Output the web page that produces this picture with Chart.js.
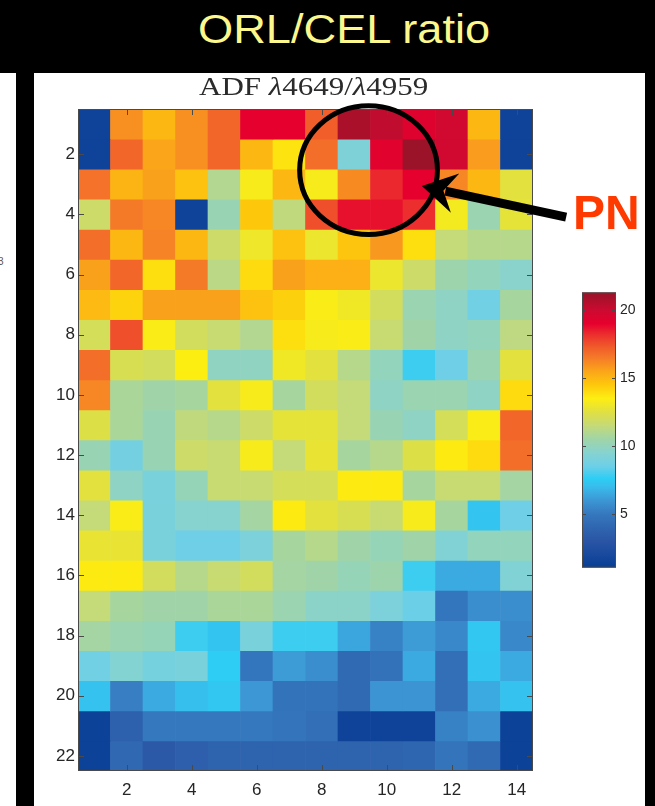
<!DOCTYPE html>
<html>
<head>
<meta charset="utf-8">
<script src="https://cdn.jsdelivr.net/npm/chart.js@4.4.1/dist/chart.umd.min.js"></script>
<style>
  body { margin: 0; background: #000; width: 655px; height: 806px; overflow: hidden; position: relative; font-family: "Liberation Sans", Arial, sans-serif; }
  #headline { position: absolute; left: 198px; top: 9px; font-size: 40px; line-height: 40px; color: #fcf88c; white-space: nowrap; transform: scaleX(1.13); transform-origin: 0 0; }
  #edge { position: absolute; left: 0; top: 73px; width: 16px; height: 733px; background: #fff; overflow: hidden; }
  #edge span { position: absolute; left: -2px; top: 183px; font-size: 10px; color: #555; }
  #panel { position: absolute; left: 34px; top: 73px; width: 611px; height: 733px; background: #fff; }
  #subtitle { position: absolute; left: 165px; top: 1px; font-family: "Liberation Serif", "Times New Roman", serif; font-size: 25px; line-height: 25px; color: #2b2b2b; white-space: nowrap; transform: scaleX(1.24); transform-origin: 0 0; }
  #subtitle i { font-style: italic; }
  #mapCanvas { position: absolute; left: 0; top: 0; }
  #barCanvas { position: absolute; left: 526px; top: 207px; }
</style>
</head>
<body>
<div id="headline">ORL/CEL ratio</div>
<div id="edge"><span>3</span></div>
<div id="panel">
  <canvas id="mapCanvas" width="611" height="733"></canvas>
  <canvas id="barCanvas" width="85" height="300"></canvas>
  <div id="subtitle">ADF <i>λ</i>4649/<i>λ</i>4959</div>
</div>
<script>
// 列（x）と行（y）
const cols = [1, 2, 3, 4, 5, 6, 7, 8, 9, 10, 11, 12, 13, 14];
const rows = [1, 2, 3, 4, 5, 6, 7, 8, 9, 10, 11, 12, 13, 14, 15, 16, 17, 18, 19, 20, 21, 22];

// 行ごとの比の値（1行 = 14列）
const ratioRows = [
  [1.5, 16, 15, 16, 17, 19, 19, 17.2, 20.8, 20.3, 19.3, 19.8, 15, 1.5],
  [1.5, 17, 15.5, 16, 17, 15, 13.8, 16.8, 9.2, 19.2, 21.2, 19.8, 15.7, 1.5],
  [16.7, 15.1, 15.6, 14.7, 11, 13.3, 15, 13.3, 16.1, 18.3, 19, 16.2, 15, 12.6],
  [11.8, 16.5, 16.2, 1.5, 10.2, 14.5, 11.4, 17.5, 18.7, 18.7, 18.2, 13.2, 10.3, 12.7],
  [16.8, 15, 16.3, 15, 11.8, 13, 14.7, 12.9, 14.6, 15.8, 13.9, 11.5, 11.1, 11.1],
  [15.6, 17, 13.9, 16.5, 11.2, 14, 15.6, 15.2, 15.2, 12.9, 11.8, 10.4, 10, 9.6],
  [14.9, 14.2, 15.6, 15.6, 15.6, 14.7, 14.3, 13.4, 13.1, 12, 10.3, 9.8, 8.7, 10.7],
  [12.1, 17.5, 13.4, 12, 11.6, 11, 13.9, 13.3, 13.4, 11.6, 10.5, 9.8, 10, 11.3],
  [16.8, 12.2, 12, 13.5, 9.9, 9.9, 13.1, 12.6, 11.1, 10, 7.8, 8.6, 10.3, 12.6],
  [16.2, 10.8, 10.5, 10.7, 12.6, 13.3, 10.7, 12, 11.5, 9.8, 10.3, 10.3, 9.8, 14],
  [12.4, 10.8, 10.2, 11.4, 11.1, 11.8, 12.7, 12.7, 11.5, 10.2, 9.8, 12.1, 13.4, 17],
  [10.2, 8.8, 10.2, 11.8, 11.6, 13.3, 11.5, 12.8, 10.7, 11.1, 12.4, 13.6, 14, 16.8],
  [12.6, 9.8, 9, 10.1, 11.6, 11.6, 12.1, 12.1, 13.6, 13.6, 10.7, 11.6, 11.6, 10.6],
  [11.5, 13.4, 9, 9.5, 9.5, 10.6, 13.6, 12.6, 12.2, 11.6, 13.3, 10.7, 7.3, 8.6],
  [12.8, 12.8, 9, 8.6, 8.6, 9.1, 10.7, 11.1, 10.5, 10.1, 10.5, 9.3, 10, 10],
  [13.6, 13.6, 12, 11.1, 11.6, 12, 10.6, 10.5, 10.1, 10.4, 7.8, 6.5, 6.5, 9.3],
  [11.5, 10.7, 10.5, 10.5, 10.8, 10.8, 10.3, 9.7, 9.7, 9.1, 8.5, 4.9, 5.7, 5.7],
  [10.6, 10.3, 10.1, 7.8, 7.3, 9, 7.8, 7.8, 6.4, 5.3, 6.1, 5.5, 7.4, 5.5],
  [8.7, 9.4, 8.9, 9, 7.6, 4.9, 6.1, 5.7, 4.2, 4.6, 6.5, 4.5, 7.3, 6.5],
  [7.2, 5.2, 6.5, 7.1, 7.4, 6, 4.7, 4.7, 4.2, 5.9, 5.9, 4.5, 6.5, 7.2],
  [1.4, 3.7, 5, 5, 5, 5, 4.8, 4.5, 1.5, 1.5, 1.5, 5.3, 5.8, 1.4],
  [1.4, 4.1, 3.2, 3.6, 3.8, 3.8, 3.8, 3.8, 3.8, 3.8, 4, 4.8, 4.2, 1.4]
];

// 目盛り
const xTicks = [2, 4, 6, 8, 10, 12, 14];
const yTicks = [2, 4, 6, 8, 10, 12, 14, 16, 18, 20, 22];
const cbTicks = [5, 10, 15, 20];
const cMin = 1.05;
const cMax = 21.3;

// カラーマップ（値 → 色）
const cmapValues = [1, 3, 4, 5, 6, 7, 7.6, 8.5, 9.5, 10.5, 11.5, 12.5, 13.5, 14.5, 15.5, 16.5, 17.3, 18.2, 19, 20, 21.3];
const cmapColors = ['#063d96', '#2a55a5', '#2f66b0', '#3578be', '#3d97d4', '#38bcec', '#2ecdf4', '#6ccfe8', '#86d3d0', '#a0d4a8',
  '#c5da78', '#e0e042', '#fdee12', '#fdc80c', '#fba51a', '#f57a28', '#f05a2a', '#ec2e2e', '#e6002d', '#cc0a30', '#961428'];

function hexRgb(h) {
  return [parseInt(h.slice(1, 3), 16), parseInt(h.slice(3, 5), 16), parseInt(h.slice(5, 7), 16)];
}

function colorOf(v) {
  if (v <= cmapValues[0]) return cmapColors[0];
  for (let i = 1; i < cmapValues.length; i++) {
    if (v <= cmapValues[i]) {
      const t = (v - cmapValues[i - 1]) / (cmapValues[i] - cmapValues[i - 1]);
      const a = hexRgb(cmapColors[i - 1]);
      const b = hexRgb(cmapColors[i]);
      const c = a.map((x, k) => Math.round(x + (b[k] - x) * t));
      return 'rgb(' + c.join(',') + ')';
    }
  }
  return cmapColors[cmapColors.length - 1];
}

// 軸の枠と内向きの目盛り線
const frame = {
  id: 'frame',
  afterDatasetsDraw(chart) {
    const { ctx, chartArea: a, scales: { x, y } } = chart;
    ctx.save();
    ctx.strokeStyle = '#4a4a4a';
    ctx.lineWidth = 1;
    ctx.strokeRect(a.left + 0.5, a.top + 0.5, a.width - 1, a.height - 1);
    ctx.beginPath();
    xTicks.forEach(c => {
      const px = Math.round(x.getPixelForValue(c - 1)) + 0.5;
      ctx.moveTo(px, a.bottom); ctx.lineTo(px, a.bottom - 6);
      ctx.moveTo(px, a.top); ctx.lineTo(px, a.top + 6);
    });
    yTicks.forEach(r => {
      const py = Math.round(y.getPixelForValue(r)) + 0.5;
      ctx.moveTo(a.left, py); ctx.lineTo(a.left + 6, py);
      ctx.moveTo(a.right, py); ctx.lineTo(a.right - 6, py);
    });
    ctx.stroke();
    ctx.restore();
  }
};

// PN の丸と矢印
const pnMark = {
  id: 'pnMark',
  afterDraw(chart) {
    const { ctx, scales: { x, y } } = chart;
    const colW = x.getPixelForValue(1) - x.getPixelForValue(0);
    const rowH = y.getPixelForValue(2) - y.getPixelForValue(1);
    ctx.save();
    ctx.strokeStyle = '#000';
    ctx.lineWidth = 5;
    ctx.beginPath();
    ctx.ellipse(x.getPixelForValue(9.44 - 1), y.getPixelForValue(2.53), 2.12 * colW, 2.14 * rowH, 0, 0, Math.PI * 2);
    ctx.stroke();

    const tx = x.getPixelForValue(11.08 - 1), ty = y.getPixelForValue(3.06);
    const sx = x.getPixelForValue(15.52 - 1), sy = y.getPixelForValue(4.09);
    const len = Math.hypot(tx - sx, ty - sy);
    const ux = (tx - sx) / len, uy = (ty - sy) / len;
    const nx = -uy, ny = ux;
    ctx.lineWidth = 9;
    ctx.beginPath();
    ctx.moveTo(sx, sy);
    ctx.lineTo(tx - ux * 24, ty - uy * 24);
    ctx.stroke();
    ctx.fillStyle = '#000';
    ctx.beginPath();
    ctx.moveTo(tx, ty);
    ctx.lineTo(tx - ux * 34 + nx * 20, ty - uy * 34 + ny * 20);
    ctx.lineTo(tx - ux * 22, ty - uy * 22);
    ctx.lineTo(tx - ux * 34 - nx * 20, ty - uy * 34 - ny * 20);
    ctx.closePath();
    ctx.fill();

    ctx.fillStyle = '#ff3a00';
    ctx.font = 'bold 48px "Liberation Sans", Arial, sans-serif';
    ctx.textBaseline = 'alphabetic';
    ctx.fillText('PN', 539, 156);
    ctx.restore();
  }
};

// 行ごとのデータ作成（浮いた棒で1マスずつ）
const rowDatasets = function () {
  const datasets = [];
  for (let r = 0; r < rows.length; r++) {
    datasets.push({
      data: cols.map(() => [rows[r] - 0.5, rows[r] + 0.5]),
      backgroundColor: ratioRows[r].map(v => colorOf(v)),
      borderWidth: 0,
      barPercentage: 1,
      categoryPercentage: 1,
      grouped: false
    });
  }
  return datasets;
};

const tickFont = { family: '"Liberation Sans", Arial, sans-serif', size: 17 };

new Chart(document.getElementById('mapCanvas'), {
  type: 'bar',
  data: {
    labels: cols.map(String),
    datasets: rowDatasets()
  },
  options: {
    responsive: false,
    animation: false,
    layout: { padding: { left: 0, top: 36, right: 112, bottom: 0 } },
    plugins: { legend: { display: false }, tooltip: { enabled: false } },
    scales: {
      x: {
        grid: { display: false, drawTicks: false },
        border: { display: false },
        afterFit: s => { s.height = 35; },
        ticks: {
          autoSkip: false,
          maxRotation: 0,
          padding: 9,
          color: '#262626',
          font: tickFont,
          callback: (v, i) => xTicks.includes(cols[i]) ? String(cols[i]) : ''
        }
      },
      y: {
        type: 'linear',
        reverse: true,
        min: 0.5,
        max: 22.5,
        grid: { display: false, drawTicks: false },
        border: { display: false },
        afterBuildTicks: s => { s.ticks = yTicks.map(v => ({ value: v })); },
        afterFit: s => { s.width = 44; },
        ticks: { padding: 3, color: '#262626', font: tickFont }
      }
    }
  },
  plugins: [frame, pnMark]
});

// カラーバー
const colorbar = {
  id: 'colorbar',
  beforeDatasetsDraw(chart) {
    const { ctx, chartArea: a, scales: { y } } = chart;
    const y0 = y.getPixelForValue(cMin), y1 = y.getPixelForValue(cMax);
    const g = ctx.createLinearGradient(0, y0, 0, y1);
    cmapValues.forEach((v, i) => {
      const t = (v - cMin) / (cMax - cMin);
      if (t >= 0 && t <= 1) g.addColorStop(t, cmapColors[i]);
    });
    g.addColorStop(0, colorOf(cMin));
    g.addColorStop(1, colorOf(cMax));
    ctx.save();
    ctx.fillStyle = g;
    ctx.fillRect(a.left, a.top, a.width, a.height);
    ctx.strokeStyle = '#4a4a4a';
    ctx.lineWidth = 1;
    ctx.strokeRect(a.left + 0.5, a.top + 0.5, a.width - 1, a.height - 1);
    ctx.beginPath();
    cbTicks.forEach(v => {
      const py = Math.round(y.getPixelForValue(v)) + 0.5;
      ctx.moveTo(a.left, py); ctx.lineTo(a.left + 4, py);
      ctx.moveTo(a.right, py); ctx.lineTo(a.right - 4, py);
    });
    ctx.stroke();
    ctx.restore();
  }
};

new Chart(document.getElementById('barCanvas'), {
  type: 'bar',
  data: { labels: [''], datasets: [] },
  options: {
    responsive: false,
    animation: false,
    layout: { padding: { left: 22, top: 11, right: 0, bottom: 12 } },
    plugins: { legend: { display: false }, tooltip: { enabled: false } },
    scales: {
      x: { display: false },
      y: {
        position: 'right',
        min: cMin,
        max: cMax,
        grid: { display: false, drawTicks: false },
        border: { display: false },
        afterBuildTicks: s => { s.ticks = cbTicks.map(v => ({ value: v })); },
        afterFit: s => { s.width = 29; },
        ticks: { padding: 4, color: '#262626', font: { family: '"Liberation Sans", Arial, sans-serif', size: 14 } }
      }
    }
  },
  plugins: [colorbar]
});
</script>
</body>
</html>
